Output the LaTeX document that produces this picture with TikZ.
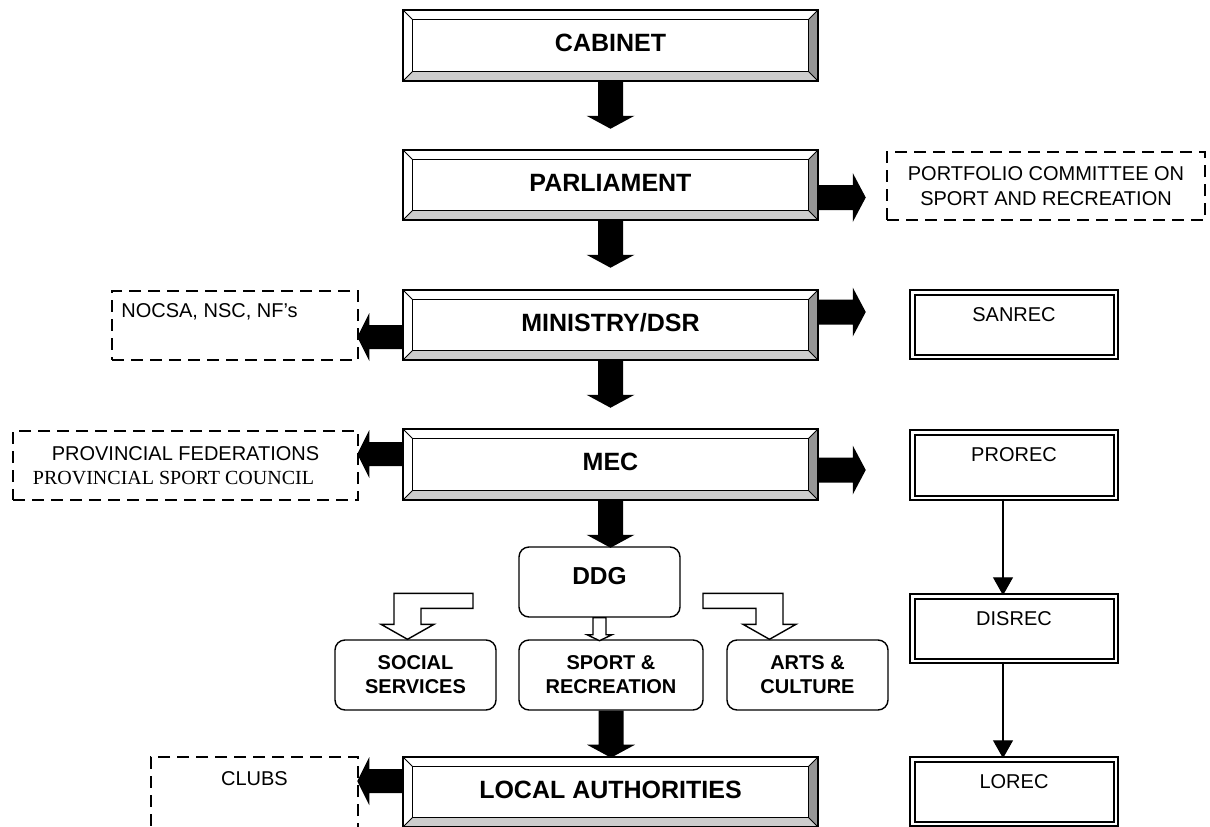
\documentclass[tikz,border=0pt]{standalone}
\usepackage{fontspec}
\setmainfont{Liberation Sans}
\newfontfamily\timesfont{Liberation Serif}
\usetikzlibrary{arrows.meta,calc}

\definecolor{bevlight}{RGB}{205,205,205}
\definecolor{bevdark}{RGB}{150,150,150}

% bevelled frame: gray bottom and right faces, inner rectangle and corner mitres
\tikzset{
  bevel/.style={draw, line width=1.5pt, inner sep=0pt,
    minimum width=415pt, minimum height=70pt, text depth=5pt,
    font=\bfseries\fontsize{25}{30}\selectfont,
    path picture={
      \fill[bevdark] (path picture bounding box.south east)
        -- (path picture bounding box.north east)
        -- ([shift={(-9.5pt,-9.5pt)}]path picture bounding box.north east)
        -- ([shift={(-9.5pt,9.5pt)}]path picture bounding box.south east) -- cycle;
      \fill[bevlight] (path picture bounding box.south west)
        -- (path picture bounding box.south east)
        -- ([shift={(-9.5pt,9.5pt)}]path picture bounding box.south east)
        -- ([shift={(9.5pt,9.5pt)}]path picture bounding box.south west) -- cycle;
      \draw[line width=1.2pt]
        ([shift={(9.5pt,9.5pt)}]path picture bounding box.south west)
        rectangle ([shift={(-9.5pt,-9.5pt)}]path picture bounding box.north east);
      \draw[line width=0.9pt]
        (path picture bounding box.south west) -- ++(9.5pt,9.5pt)
        (path picture bounding box.north west) -- ++(9.5pt,-9.5pt)
        (path picture bounding box.south east) -- ++(-9.5pt,9.5pt)
        (path picture bounding box.north east) -- ++(-9.5pt,-9.5pt);
    }},
  dbl/.style={draw, line width=2pt, double=white, double distance=2.5pt,
    inner sep=0pt, minimum width=203.5pt, minimum height=64.5pt,
    text depth=20pt, font=\fontsize{20}{24}\selectfont},
  dsh/.style={draw, line width=2pt, dash pattern=on 12pt off 7pt,
    inner sep=0pt, font=\fontsize{20}{25}\selectfont, align=center},
  rnd/.style={draw, line width=1.4pt, rounded corners=10pt, inner sep=0pt,
    minimum width=161pt, minimum height=70pt, align=center,
    font=\bfseries\fontsize{20}{24}\selectfont},
  hollow/.style={draw, line width=1.4pt, fill=white, line join=miter},
  thin/.style={line width=1.3pt, -{Triangle[length=18pt,width=20pt]}},
}

% solid block arrows: downward from an anchor, sideways from an anchor with a vertical offset
\newcommand\blkdown[1]{\fill (#1) ++(-12.5,0) -- ++(0,34) -- ++(-11.5,0)
  -- ++(24,13) -- ++(24,-13) -- ++(-11.5,0) -- ++(0,-34) -- cycle;}
\newcommand\blkright[2]{\fill ($(#1)+(0,#2)$) ++(0,-12.5) -- ++(34,0) -- ++(0,-12)
  -- ++(13,24.5) -- ++(-13,24.5) -- ++(0,-12) -- ++(-34,0) -- cycle;}
\newcommand\blkleft[2]{\fill ($(#1)+(0,#2)$) ++(0,-12) -- ++(-33,0) -- ++(0,-12)
  -- ++(-12,24) -- ++(12,24) -- ++(0,-12) -- ++(33,0) -- cycle;}

\begin{document}
\begin{tikzpicture}[x=1pt,y=-1pt]
\useasboundingbox (0,0) rectangle (1210,827);
\clip (0,0) rectangle (1210,827);

% central chain
\node[bevel, minimum height=71pt] (cab)  at (610.5,45.5) {CABINET};
\node[bevel] (parl) at (610.5,185)   {PARLIAMENT};
\node[bevel] (min)  at (610.5,325)   {MINISTRY/DSR};
\node[bevel, minimum height=71pt] (mec)  at (610.5,464.5) {MEC};
\node[bevel] (loc)  at (610.5,792)   {LOCAL AUTHORITIES};

% DDG and its branches
\node[rnd, text depth=13pt, font=\bfseries\fontsize{24.5}{29}\selectfont] (ddg) at (599.5,582) {DDG};
\node[rnd] (soc)  at (415.5,675) {SOCIAL\\SERVICES};
\node[rnd, minimum width=184pt] (spo) at (611,675) {SPORT \&\\RECREATION};
\node[rnd] (arts) at (807.5,675) {ARTS \&\\CULTURE};

% dashed side bodies
\node[dsh, minimum width=318pt, minimum height=68pt] (port) at (1046,186)
  {PORTFOLIO COMMITTEE ON\\SPORT AND RECREATION};
\node[dsh, minimum width=246pt, minimum height=69pt, text depth=29pt] (nocsa) at (235,325.5)
  {\hspace*{9pt}NOCSA, NSC, NF’s\hspace*{60pt}};
\node[dsh, minimum width=345pt, minimum height=69pt, font=\fontsize{20}{24.5}\selectfont] (prov) at (185.5,465.5)
  {PROVINCIAL FEDERATIONS\\{\timesfont PROVINCIAL SPORT COUNCIL}\hspace*{24pt}};
\node[dsh, minimum width=207pt, minimum height=80pt, text depth=36pt] (clubs) at (254.5,797) {CLUBS};

% recreation councils
\node[dbl] (sanrec) at (1014,324.5) {SANREC};
\node[dbl, minimum height=65.5pt] (prorec) at (1014,465) {PROREC};
\node[dbl] (disrec) at (1014,628.5) {DISREC};
\node[dbl] (lorec)  at (1014,791.5) {LOREC};

% downward block arrows
\blkdown{cab.south}
\blkdown{parl.south}
\blkdown{min.south}
\blkdown{mec.south}
\blkdown{spo.south}

% sideways block arrows
\blkright{parl.east}{12.5}
\blkright{min.east}{-13}
\blkright{mec.east}{5.5}
\blkleft{min.west}{12}
\blkleft{mec.west}{-10.5}
\blkleft{loc.west}{-11}

% hollow arrows out of DDG
\draw[hollow] ($(soc.north)+(-8,0)$) -- ++(-26.5,-15) -- ++(13,0) -- ++(0,-31)
  -- ++(79,0) -- ++(0,15) -- ++(-52,0) -- ++(0,16) -- ++(13,0) -- cycle;
\draw[hollow] ($(arts.north)+(-38,0)$) -- ++(26.5,-15) -- ++(-13,0) -- ++(0,-31)
  -- ++(-80,0) -- ++(0,15) -- ++(53,0) -- ++(0,16) -- ++(-13,0) -- cycle;
\draw[hollow] ($(ddg.south)+(0,23)$) -- ++(12.5,-6) -- ++(-6,0) -- ++(0,-17)
  -- ++(-13,0) -- ++(0,17) -- ++(-6,0) -- cycle;

% thin connectors between councils
\draw[thin] ([xshift=-11pt]prorec.south) -- ([xshift=-11pt]disrec.north);
\draw[thin] ([xshift=-11pt]disrec.south) -- ([xshift=-11pt]lorec.north);
\end{tikzpicture}
\end{document}
